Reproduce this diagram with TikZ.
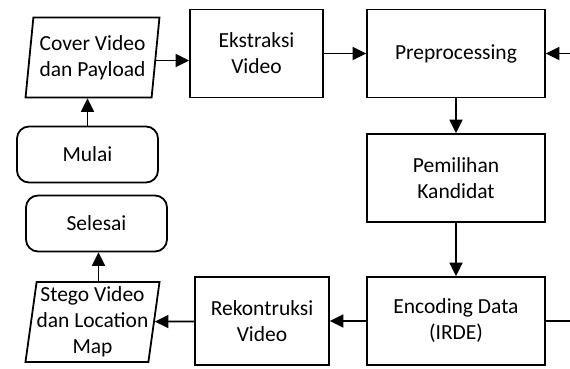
\documentclass[tikz,border=0pt]{standalone}
\usepackage{fontspec}
\setmainfont{Carlito}
\usetikzlibrary{arrows.meta,shapes.geometric}

\tikzset{
  every node/.style={font=\fontsize{21.5}{26}\selectfont, align=center, inner sep=0pt},
  procbox/.style={draw, line width=1.8pt, rectangle, minimum width=#1, minimum height=88pt},
  procbox/.default=178pt,
  iobox/.style={draw, line width=1.8pt, trapezium, trapezium left angle=81,
    trapezium right angle=99, trapezium stretches=true,
    minimum width=134pt, minimum height=80pt},
  termbox/.style={draw, line width=1.8pt, rectangle, rounded corners=12pt,
    minimum width=141pt, minimum height=56pt},
  flow/.style={line width=1.8pt, -{Triangle[length=13.5pt,width=13pt]}},
  link/.style={line width=1.8pt}
}

\begin{document}
\begin{tikzpicture}[x=1pt, y=-1pt]
  \useasboundingbox (0,0) rectangle (570,369);
  \clip (0,0) rectangle (570,369);

  % start / end terminals
  \node[termbox] (mulai) at (87.5,154.5) {Mulai};
  \node[termbox] (selesai) at (96.5,223.5) {Selesai};

  % input / output data
  \node[iobox] (cover) at (92.5,57.5) {\fontsize{21.5}{23}\selectfont Cover Video\\dan Payload};
  \node[iobox] (stego) at (92.5,322) {\fontsize{21.5}{25}\selectfont Stego Video\\dan Location\\Map};

  % processing steps
  \node[procbox=133pt] (ekstr) at (256.5,53.5) {Ekstraksi\\Video};
  \node[procbox] (pre) at (456,53.5) {Preprocessing};
  \node[procbox] (pem) at (456,178) {Pemilihan\\Kandidat};
  \node[procbox] (enc) at (456,321) {\fontsize{21.5}{28}\selectfont Encoding Data\\(IRDE)};
  \node[procbox=134pt] (rek) at (262,321) {Rekontruksi\\Video};

  % loop-back route along the right margin
  \coordinate (loopB) at (580,321);
  \coordinate (loopT) at (580,53.5);

  % connectors
  \draw[flow] (mulai.north) -- (mulai.north |- cover.south);
  \draw[flow] ([yshift=-3pt]cover.east) -- ([yshift=-3pt]cover.east -| ekstr.west);
  \draw[flow] (ekstr) -- (pre);
  \draw[flow] (pre) -- (pem);
  \draw[flow] (pem) -- (enc);
  \draw[flow] (enc) -- (rek);
  \draw[flow] (rek) -- (stego);
  \draw[flow] ([xshift=2pt]selesai.south |- stego.north) -- ([xshift=2pt]selesai.south);
  \draw[link] (enc.east) -- (loopB) -- (loopT);
  \draw[flow] (loopT) -- (pre.east);
\end{tikzpicture}
\end{document}
